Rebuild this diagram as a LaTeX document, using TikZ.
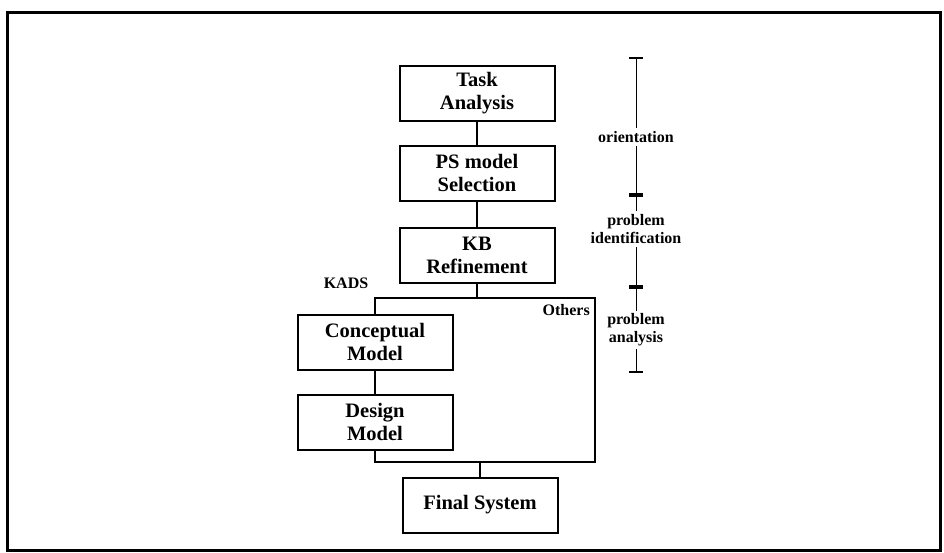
\documentclass[tikz,border=0pt]{standalone}
\usepackage{fontspec}
\setmainfont{Liberation Serif}
\usepackage{tikz}
\usetikzlibrary{positioning, arrows.meta}

\begin{document}
\begin{tikzpicture}[
  x=1pt, y=1pt,
  font=\bfseries,
  stage/.style={draw, line width=2pt, minimum width=155pt, minimum height=55pt, align=center, font=\bfseries\fontsize{20.5}{23}\selectfont},
  lbl/.style={font=\bfseries\fontsize{16}{18}\selectfont, align=center, inner sep=1pt},
  phase/.style={lbl, fill=white, inner sep=3pt},
  tick/.style={line width=1pt, {Bar[width=14pt, line width=1.6pt]}-{Bar[width=14pt, line width=1.6pt]}},
  link/.style={line width=1.4pt},
]
\useasboundingbox (0,0) rectangle (944,-552);
\draw[line width=3pt] (7,-12) rectangle (940,-550);

\node[stage] (task) at (477,-93) {Task\\Analysis};
\node[stage, below=23pt of task] (ps) {PS model\\Selection};
\node[stage, below=25pt of ps] (kb) {KB\\Refinement};
\node[stage] (concept) at (375,-342) {Conceptual\\Model};
\node[stage, below=23pt of concept] (design) {Design\\Model};
\node[stage] (final) at (480,-505) {Final System};

\coordinate (otop) at (595,-298);
\coordinate (obot) at (595,-462);
\node[lbl] (kads) at (346,-283) {KADS};
\node[lbl, anchor=north east] (others) at ([xshift=-4pt, yshift=-5pt]otop) {Others};

\draw[link] (task) -- (ps);
\draw[link] (ps) -- (kb);
\draw[link] (kb) -- (kb |- otop);
\draw[link] (concept) |- (otop) -- (obot) -| (design);
\draw[link] (concept) -- (design);
\draw[link] (final) -- (final |- obot);

% phases on the right
\coordinate (t0) at (636,-57);
\coordinate (t1) at (636,-195);
\coordinate (t2) at (636,-287);
\coordinate (t3) at (636,-373);
\draw[tick] (t0) -- node[phase, pos=0.58] (orient) {orientation} (t1);
\draw[tick] (t1) -- node[phase, pos=0.37] (ident) {problem\\identification} (t2);
\draw[tick] (t2) -- node[phase, pos=0.5] (anal) {problem\\analysis} (t3);
\end{tikzpicture}
\end{document}
